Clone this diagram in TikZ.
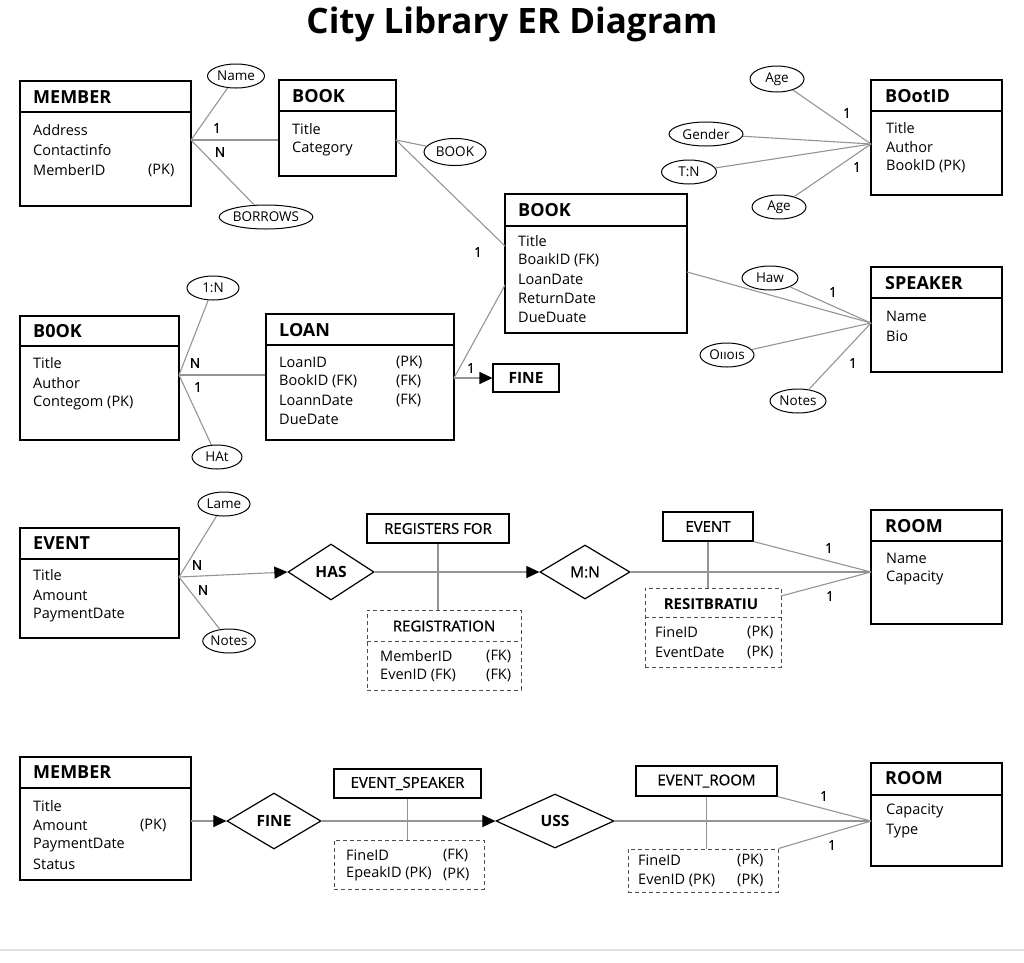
\documentclass[tikz,border=0pt]{standalone}
\usepackage{fontspec}
\setmainfont{Open Sans}
\newfontfamily\medfont[FakeBold=0.8]{Open Sans}
\usetikzlibrary{shapes.geometric,arrows.meta,positioning}

\tikzset{
	entity/.style={draw=black,line width=1.1pt,rectangle,inner sep=0pt},
	weakbox/.style={draw=black!70,dash pattern=on 4pt off 3pt,line width=1pt,rectangle,inner sep=0pt},
	attrib/.style={draw=black,line width=1pt,ellipse,inner sep=0pt,minimum height=24pt,font=\fontsize{13.5}{15}\selectfont},
	rel/.style={draw=black,line width=1.2pt,diamond,inner sep=0pt,font=\bfseries\fontsize{15.5}{17}\selectfont},
	link/.style={draw=black!42,line width=1.1pt},
	arrowlink/.style={link,-{Triangle[color=black,length=13pt,width=12pt]}},
	head/.style={anchor=west,inner sep=0pt,font=\bfseries\fontsize{18}{20}\selectfont},
	field/.style={anchor=west,inner sep=0pt,font=\fontsize{14.5}{17}\selectfont},
	label/.style={inner sep=0pt,font=\medfont\fontsize{15}{17}\selectfont},
	card/.style={inner sep=0pt,font=\medfont\fontsize{13.5}{15}\selectfont},
}

% box from corner (#2,#3) to (#4,#5), header line at #6
\newcommand{\erbox}[6]{%
	\node[entity,minimum width={#4-#2},minimum height={#5-#3}] (#1) at ({(#2+#4)/2},{(#3+#5)/2}) {};
	\draw[line width=1.1pt] (#2,#6) -- (#4,#6);}

\begin{document}
\begin{tikzpicture}[x=1pt,y=-1pt]
	\useasboundingbox (0,0) rectangle (1024,962);
	
	\node[font=\bfseries\fontsize{35}{39}\selectfont] (title) at (512,24) {City Library ER Diagram};
	
	% ---- row 1 ----
	\erbox{member1}{20}{81}{191}{206}{112}
	\node[head] (member1-h) at (33,97) {MEMBER};
	\foreach \f [count=\i] in {Address,Contactinfo,MemberID}
	\node[field] (member1-\i) at (33,{110+20*\i}) {\f};
	\node[field] (member1-pk) at (148,170) {(PK)};
	
	\erbox{book1}{279}{80}{396}{176}{111}
	\node[head] (book1-h) at (292,96) {BOOK};
	\foreach \f [count=\i] in {Title,Category}
	\node[field] (book1-\i) at (292,{109+20*\i}) {\f};
	
	\erbox{book2}{505}{194}{687}{333}{226}
	\node[head] (book2-h) at (518,210) {BOOK};
	\foreach \f [count=\i] in {Title,BoaıkID (FK),LoanDate,ReturnDate,DueDuate}
	\node[field] (book2-\i) at (518,{222+19*\i}) {\f};
	
	\erbox{bootid}{871}{80}{1002}{195}{111}
	\node[head] (bootid-h) at (885,96) {BOotID};
	\foreach \f [count=\i] in {Title,Author,BookID (PK)}
	\node[field] (bootid-\i) at (886,{109+19*\i}) {\f};
	
	\node[attrib,minimum width=57pt] (name) at (236,76) {Name};
	\node[attrib,minimum width=86pt] (borrows) at (266,217) {BORROWS};
	\node[attrib,minimum width=62pt,minimum height=27pt] (bookE) at (455,152) {BOOK};
	\node[attrib,minimum width=54pt,minimum height=26pt] (age1) at (777,79) {Age};
	\node[attrib,minimum width=74pt] (gender) at (706,134) {Gender};
	\node[attrib,minimum width=55pt] (tn) at (689,172) {T:N};
	\node[attrib,minimum width=54pt] (age2) at (779,207) {Age};
	
	\coordinate (c1) at (191,140);
	\coordinate (c2) at (396,140);
	\coordinate (c3) at (871,144);
	\draw[link] (c1) -- (name);
	\draw[link] (c1) -- (book1.west |- c1);
	\draw[link] (c1) -- (borrows);
	\draw[link] (c2) -- (bookE);
	\draw[link] (c2) -- (505,246);
	\foreach \e in {age1,gender,tn,age2}
	\draw[link] (\e) -- (c3);
	
	\node[card] (k1) at (217,128) {1};
	\node[card] (k2) at (220,152) {N};
	\node[card] (k3) at (478,252) {1};
	\node[card] (k4) at (847,113) {1};
	\node[card] (k5) at (857,167) {1};
	
	% ---- row 2 ----
	\erbox{speaker}{871}{267}{1002}{372}{298}
	\node[head] (speaker-h) at (885,283) {SPEAKER};
	\foreach \f [count=\i] in {Name,Bio}
	\node[field] (speaker-\i) at (886,{296+20*\i}) {\f};
	
	\erbox{book3}{20}{316}{179}{440}{346}
	\node[head] (book3-h) at (33,331) {B0OK};
	\foreach \f [count=\i] in {Title,Author,Contegom (PK)}
	\node[field] (book3-\i) at (33,{343+20*\i}) {\f};
	
	\erbox{loan}{266}{314}{454}{440}{345}
	\node[head] (loan-h) at (279,330) {LOAN};
	\foreach \f [count=\i] in {LoanID,BookID (FK),LoannDate,DueDate}
	\node[field] (loan-\i) at (279,{343+19*\i}) {\f};
	\foreach \k [count=\i] in {(PK),(FK),(FK)}
	\node[field] (loan-k\i) at (396,{343+19*\i}) {\k};
	
	\node[entity,minimum width=66pt,minimum height=28pt,font=\bfseries\fontsize{15.5}{17}\selectfont] (fine1) at (526,378) {FINE};
	
	\node[attrib,minimum width=56pt] (haw) at (770,278) {Haw};
	\node[attrib,minimum width=54pt] (oiios) at (727,355) {Oııoıs};
	\node[attrib,minimum width=56pt] (notes1) at (798,401) {Notes};
	\node[attrib,minimum width=52pt] (onen) at (213,288) {1:N};
	\node[attrib,minimum width=50pt] (hat) at (217,457) {HAt};
	
	\coordinate (c4) at (871,323);
	\coordinate (c5) at (179,375);
	\coordinate (c6) at (454,378);
	\draw[link] (687,272) -- (c4);
	\foreach \e in {haw,oiios,notes1}
	\draw[link] (\e) -- (c4);
	\draw[link] (c5) -- (onen);
	\draw[link] (c5) -- (hat);
	\draw[link] (c5) -- (loan.west |- c5);
	\draw[link] (c6) -- (505,285);
	\draw[arrowlink] (c6) -- (fine1.west);
	
	\node[card] (k6) at (833,292) {1};
	\node[card] (k7) at (853,363) {1};
	\node[card] (k8) at (195,363) {N};
	\node[card] (k9) at (198,387) {1};
	\node[card] (k10) at (471,368) {1};
	
	% ---- row 3 ----
	\erbox{event1}{20}{528}{179}{638}{559}
	\node[head] (event1-h) at (33,543) {EVENT};
	\foreach \f [count=\i] in {Title,Amount,PaymentDate}
	\node[field] (event1-\i) at (33,{555+20*\i}) {\f};
	
	\node[attrib,minimum width=52pt] (lame) at (224,504) {Lame};
	\node[attrib,minimum width=52pt] (notes2) at (229,641) {Notes};
	
	\node[rel,minimum width=86pt,minimum height=56pt] (has) at (331,572) {HAS};
	\node[rel,minimum width=90pt,minimum height=54pt,font=\medfont\fontsize{15.5}{17}\selectfont] (mn) at (585,572) {M:N};
	
	\node[entity,minimum width=142pt,minimum height=29pt,font=\medfont\fontsize{15}{17}\selectfont] (regfor) at (438,528.5) {REGISTERS FOR};
	\node[weakbox,minimum width=154pt,minimum height=80pt] (regis) at (444,650) {};
	\draw[black!70,dash pattern=on 4pt off 3pt,line width=1pt] (367,641) -- (521,641);
	\node[label] (regis-h) at (444,626) {REGISTRATION};
	\foreach \f [count=\i] in {MemberID,EvenID (FK)}
	\node[field] (regis-\i) at (380,{637+19*\i}) {\f};
	\foreach \k [count=\i] in {(FK),(FK)}
	\node[field] (regis-k\i) at (486,{637+19*\i}) {\k};
	
	\node[entity,minimum width=90pt,minimum height=29pt,font=\medfont\fontsize{15}{17}\selectfont] (evt2) at (708,526.5) {EVENT};
	\node[weakbox,minimum width=136pt,minimum height=79pt] (resit) at (713,627.5) {};
	\draw[black!70,dash pattern=on 4pt off 3pt,line width=1pt] (645,617) -- (781,617);
	\node[label,font=\bfseries\fontsize{15}{17}\selectfont] (resit-h) at (711,604) {RESITBRATIU};
	\foreach \f [count=\i] in {FineID,EventDate}
	\node[field] (resit-\i) at (655,{612+20*\i}) {\f};
	\foreach \k [count=\i] in {(PK),(PK)}
	\node[field] (resit-k\i) at (747,{612+20*\i}) {\k};
	
	\erbox{room1}{871}{510}{1002}{624}{541}
	\node[head] (room1-h) at (885,526) {ROOM};
	\foreach \f [count=\i] in {Name,Capacity}
	\node[field] (room1-\i) at (886,{538+20*\i}) {\f};
	
	\coordinate (c7) at (179,577);
	\coordinate (c8) at (871,572);
	\draw[link] (c7) -- (lame);
	\draw[link] (c7) -- (notes2);
	\draw[arrowlink] (c7) -- (has.west);
	\draw[link] (regfor.south) -- (regfor.south |- regis.north);
	\draw[link] (evt2.south) -- (evt2.south |- resit.north);
	\draw[arrowlink] (has.east) -- (mn.west);
	\draw[link] (evt2.south east) -- (c8);
	\draw[link] (mn.east) -- (c8);
	\draw[link] (781,596) -- (c8);
	
	\node[card] (k11) at (197,565) {N};
	\node[card] (k12) at (203,590) {N};
	\node[card] (k13) at (829,548) {1};
	\node[card] (k14) at (830,596) {1};
	
	% ---- row 4 ----
	\erbox{member2}{20}{757}{191}{880}{788}
	\node[head] (member2-h) at (33,772) {MEMBER};
	\foreach \f [count=\i] in {Title,Amount,PaymentDate,Status}
	\node[field] (member2-\i) at (33,{786+19.6*\i}) {\f};
	\node[field] (member2-pk) at (140,825) {(PK)};
	
	\node[rel,minimum width=94pt,minimum height=56pt] (fineD) at (274,821) {FINE};
	\node[rel,minimum width=118pt,minimum height=54pt] (uss) at (555,821) {USS};
	
	\node[entity,minimum width=147pt,minimum height=29pt,font=\medfont\fontsize{15}{17}\selectfont] (evspk) at (407.5,783.5) {EVENT\_SPEAKER};
	\node[weakbox,minimum width=150pt,minimum height=49pt] (evspkw) at (409,864.5) {};
	\foreach \f [count=\i] in {FineID,EpeakID (PK)}
	\node[field] (evspkw-\i) at (346,{836+19*\i}) {\f};
	\foreach \k [count=\i] in {(FK),(PK)}
	\node[field] (evspkw-k\i) at (443,{836+19*\i}) {\k};
	
	\node[entity,minimum width=141pt,minimum height=30pt,font=\medfont\fontsize{15}{17}\selectfont] (evroom) at (706.5,781) {EVENT\_ROOM};
	\node[weakbox,minimum width=150pt,minimum height=43pt] (evroomw) at (703,870.5) {};
	\foreach \f [count=\i] in {FineID,EvenID (PK)}
	\node[field] (evroomw-\i) at (638,{840+20*\i}) {\f};
	\foreach \k [count=\i] in {(PK),(PK)}
	\node[field] (evroomw-k\i) at (737,{840+20*\i}) {\k};
	
	\erbox{room2}{871}{763}{1002}{866}{795}
	\node[head] (room2-h) at (885,778) {ROOM};
	\foreach \f [count=\i] in {Capacity,Type}
	\node[field] (room2-\i) at (886,{791+20*\i}) {\f};
	
	\coordinate (c9) at (191,821);
	\coordinate (c10) at (871,821);
	\draw[arrowlink] (c9) -- (fineD.west);
	\draw[arrowlink] (fineD.east) -- (uss.west);
	\draw[link] (evspk.south) -- (evspk.south |- evspkw.north);
	\draw[link] (evroom.south) -- (evroom.south |- evroomw.north);
	\draw[link] (evroom.south east) -- (c10);
	\draw[link] (uss.east) -- (c10);
	\draw[link] (evroomw.north east) -- (c10);
	
	\node[card] (k15) at (824,796) {1};
	\node[card] (k16) at (832,845) {1};
	
	\draw[black!12,line width=1.2pt] (0,950) -- (1024,950);
\end{tikzpicture}
\end{document}
